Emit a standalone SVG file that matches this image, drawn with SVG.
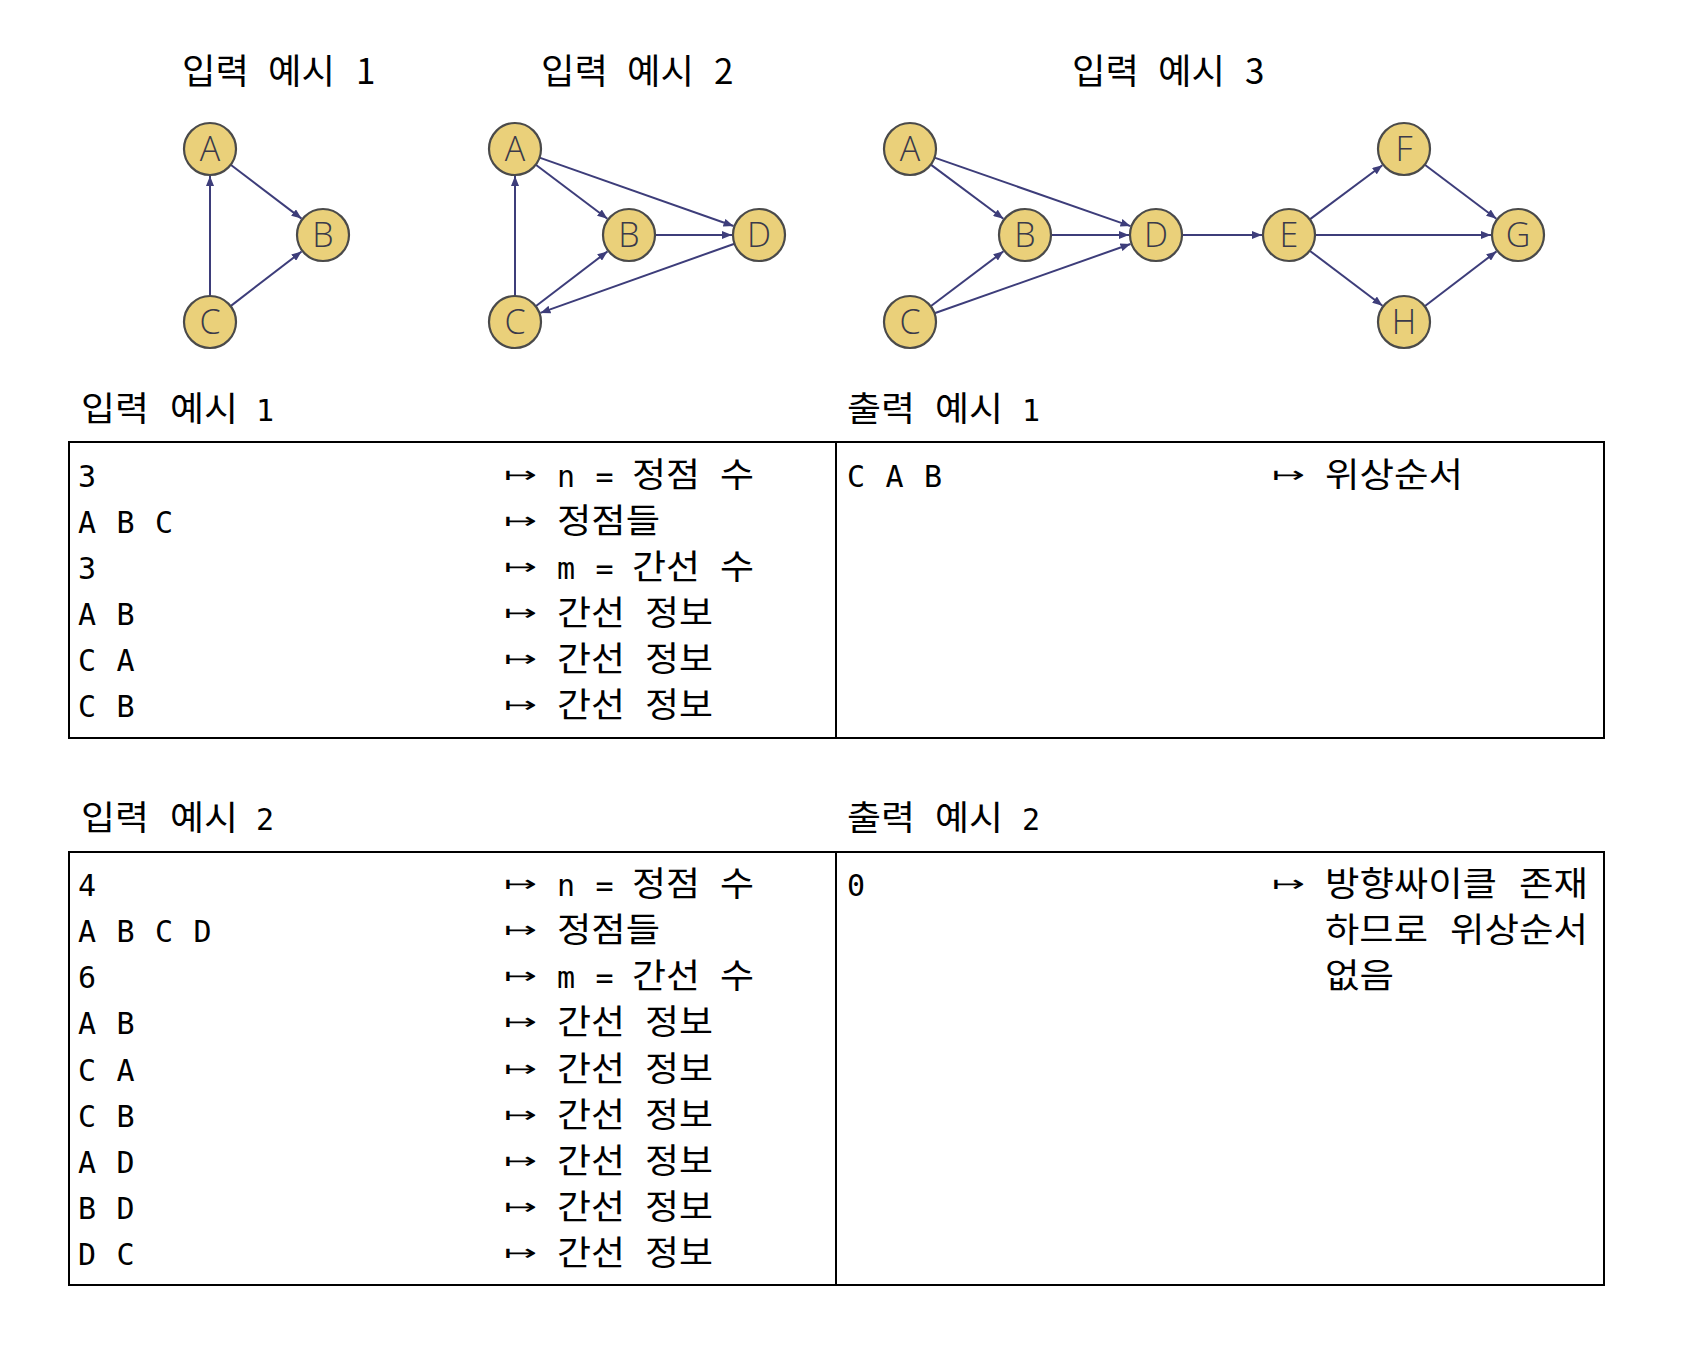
<svg xmlns="http://www.w3.org/2000/svg" width="1706" height="1356" viewBox="0 0 1706 1356">
<style>
.t{font-family:"Noto Sans CJK KR",sans-serif;font-size:35px;fill:#000}
.m{font-family:"DejaVu Sans Mono","Noto Sans CJK KR",monospace;font-size:30px;letter-spacing:1.2px;fill:#000}
.k{font-family:"Noto Sans CJK KR",sans-serif;font-size:34.5px;fill:#000}
.ar{font-family:"DejaVu Sans",sans-serif;font-size:22px;fill:#000}
.nd circle{fill:#EAD07A;stroke:#4a4a4a;stroke-width:2.2}
.nd text{font-family:"Open Sans","Noto Sans",sans-serif;font-size:34px;font-weight:300;fill:#3a3a4a;text-anchor:middle}
.e path{fill:none;stroke:#3d3d7a;stroke-width:2;marker-end:url(#ah)}
.tb{fill:none;stroke:#000;stroke-width:2}
</style>
<defs>
<marker id="ah" markerUnits="userSpaceOnUse" viewBox="0 0 10 8" markerWidth="10" markerHeight="8" refX="10" refY="4" orient="auto">
<path d="M0,0 L10,4 L0,8 z" fill="#3d3d7a"/>
</marker>
</defs>
<rect width="1706" height="1356" fill="#fff"/>

<text class="t" y="84"><tspan x="182" textLength="67" lengthAdjust="spacingAndGlyphs">입력</tspan><tspan x="268" textLength="67" lengthAdjust="spacingAndGlyphs">예시</tspan><tspan x="356">1</tspan></text>
<text class="t" y="84"><tspan x="541" textLength="67" lengthAdjust="spacingAndGlyphs">입력</tspan><tspan x="627" textLength="67" lengthAdjust="spacingAndGlyphs">예시</tspan><tspan x="714">2</tspan></text>
<text class="t" y="84"><tspan x="1072" textLength="67" lengthAdjust="spacingAndGlyphs">입력</tspan><tspan x="1158" textLength="67" lengthAdjust="spacingAndGlyphs">예시</tspan><tspan x="1245">3</tspan></text>

<g id="connectors" class="e">
<path d="M230.7,164.7 L301.5,218.6"/>
<path d="M210,296 L210,176"/>
<path d="M230.6,306.1 L301.6,251.5"/>

<path d="M535.8,164.7 L607.4,218.7"/>
<path d="M539.5,157.6 L733.5,226"/>
<path d="M655,235 L732,235"/>
<path d="M515,296 L515,176"/>
<path d="M535.7,306.2 L607.5,251.4"/>
<path d="M734.5,243.7 L540.4,312.9"/>

<path d="M930.8,164.6 L1003.4,218.8"/>
<path d="M934.5,157.6 L1130.5,226.1"/>
<path d="M1051,235 L1129,235"/>
<path d="M930.7,306.3 L1003.5,251.3"/>
<path d="M934.5,313.3 L1130.5,244"/>
<path d="M1182,235 L1262,235"/>
<path d="M1309.8,219.4 L1382.4,165.2"/>
<path d="M1315,235 L1491,235"/>
<path d="M1309.7,250.7 L1382.5,305.7"/>
<path d="M1424.8,164.7 L1496.4,218.7"/>
<path d="M1424.7,306.2 L1496.5,251.4"/>
</g>

<g id="g1A" class="nd"><circle cx="210" cy="149" r="26"/><text x="210" y="161">A</text></g>
<g id="g1B" class="nd"><circle cx="323" cy="235" r="26"/><text x="323" y="247">B</text></g>
<g id="g1C" class="nd"><circle cx="210" cy="322" r="26"/><text x="210" y="334">C</text></g>

<g id="g2A" class="nd"><circle cx="515" cy="149" r="26"/><text x="515" y="161">A</text></g>
<g id="g2B" class="nd"><circle cx="629" cy="235" r="26"/><text x="629" y="247">B</text></g>
<g id="g2D" class="nd"><circle cx="759" cy="235" r="26"/><text x="759" y="247">D</text></g>
<g id="g2C" class="nd"><circle cx="515" cy="322" r="26"/><text x="515" y="334">C</text></g>

<g id="g3A" class="nd"><circle cx="910" cy="149" r="26"/><text x="910" y="161">A</text></g>
<g id="g3B" class="nd"><circle cx="1025" cy="235" r="26"/><text x="1025" y="247">B</text></g>
<g id="g3D" class="nd"><circle cx="1156" cy="235" r="26"/><text x="1156" y="247">D</text></g>
<g id="g3C" class="nd"><circle cx="910" cy="322" r="26"/><text x="910" y="334">C</text></g>
<g id="g3E" class="nd"><circle cx="1289" cy="235" r="26"/><text x="1289" y="247">E</text></g>
<g id="g3F" class="nd"><circle cx="1404" cy="149" r="26"/><text x="1404" y="161">F</text></g>
<g id="g3G" class="nd"><circle cx="1518" cy="235" r="26"/><text x="1518" y="247">G</text></g>
<g id="g3H" class="nd"><circle cx="1404" cy="322" r="26"/><text x="1404" y="334">H</text></g>

<g id="table1">
<text class="k" y="421"><tspan x="81" textLength="68" lengthAdjust="spacingAndGlyphs">입력</tspan><tspan x="170" textLength="68" lengthAdjust="spacingAndGlyphs">예시</tspan></text><text class="m" x="256" y="421">1</text>
<text class="k" y="421"><tspan x="847" textLength="68" lengthAdjust="spacingAndGlyphs">출력</tspan><tspan x="935" textLength="68" lengthAdjust="spacingAndGlyphs">예시</tspan></text><text class="m" x="1022" y="421">1</text>
<rect class="tb" x="69" y="442" width="1535" height="296"/>
<line class="tb" x1="836" y1="442" x2="836" y2="738"/>
<text class="m" x="78" y="487">3</text>
<text class="m" x="78" y="533">A B C</text>
<text class="m" x="78" y="579">3</text>
<text class="m" x="78" y="625">A B</text>
<text class="m" x="78" y="671">C A</text>
<text class="m" x="78" y="717">C B</text>
<text class="ar" x="504" y="482" textLength="33" lengthAdjust="spacingAndGlyphs">↦</text>
<text class="ar" x="504" y="528" textLength="33" lengthAdjust="spacingAndGlyphs">↦</text>
<text class="ar" x="504" y="574" textLength="33" lengthAdjust="spacingAndGlyphs">↦</text>
<text class="ar" x="504" y="620" textLength="33" lengthAdjust="spacingAndGlyphs">↦</text>
<text class="ar" x="504" y="666" textLength="33" lengthAdjust="spacingAndGlyphs">↦</text>
<text class="ar" x="504" y="712" textLength="33" lengthAdjust="spacingAndGlyphs">↦</text>
<text class="m" x="557" y="487">n =</text><text class="k" y="487"><tspan x="632" textLength="68" lengthAdjust="spacingAndGlyphs">정점</tspan><tspan x="720" textLength="34" lengthAdjust="spacingAndGlyphs">수</tspan></text>
<text class="k" x="557" y="533" textLength="103" lengthAdjust="spacingAndGlyphs">정점들</text>
<text class="m" x="557" y="579">m =</text><text class="k" y="579"><tspan x="632" textLength="68" lengthAdjust="spacingAndGlyphs">간선</tspan><tspan x="720" textLength="34" lengthAdjust="spacingAndGlyphs">수</tspan></text>
<text class="k" y="625"><tspan x="557" textLength="68" lengthAdjust="spacingAndGlyphs">간선</tspan><tspan x="645" textLength="68" lengthAdjust="spacingAndGlyphs">정보</tspan></text>
<text class="k" y="671"><tspan x="557" textLength="68" lengthAdjust="spacingAndGlyphs">간선</tspan><tspan x="645" textLength="68" lengthAdjust="spacingAndGlyphs">정보</tspan></text>
<text class="k" y="717"><tspan x="557" textLength="68" lengthAdjust="spacingAndGlyphs">간선</tspan><tspan x="645" textLength="68" lengthAdjust="spacingAndGlyphs">정보</tspan></text>
<text class="m" x="847" y="487">C A B</text>
<text class="ar" x="1272" y="482" textLength="33" lengthAdjust="spacingAndGlyphs">↦</text>
<text class="k" x="1325" y="487" textLength="138" lengthAdjust="spacingAndGlyphs">위상순서</text>
</g>

<g id="table2">
<text class="k" y="830"><tspan x="81" textLength="68" lengthAdjust="spacingAndGlyphs">입력</tspan><tspan x="170" textLength="68" lengthAdjust="spacingAndGlyphs">예시</tspan></text><text class="m" x="256" y="830">2</text>
<text class="k" y="830"><tspan x="847" textLength="68" lengthAdjust="spacingAndGlyphs">출력</tspan><tspan x="935" textLength="68" lengthAdjust="spacingAndGlyphs">예시</tspan></text><text class="m" x="1022" y="830">2</text>
<rect class="tb" x="69" y="852" width="1535" height="433"/>
<line class="tb" x1="836" y1="852" x2="836" y2="1285"/>
<text class="m" x="78" y="896">4</text>
<text class="m" x="78" y="942">A B C D</text>
<text class="m" x="78" y="988">6</text>
<text class="m" x="78" y="1034">A B</text>
<text class="m" x="78" y="1081">C A</text>
<text class="m" x="78" y="1127">C B</text>
<text class="m" x="78" y="1173">A D</text>
<text class="m" x="78" y="1219">B D</text>
<text class="m" x="78" y="1265">D C</text>
<text class="ar" x="504" y="891" textLength="33" lengthAdjust="spacingAndGlyphs">↦</text>
<text class="ar" x="504" y="937" textLength="33" lengthAdjust="spacingAndGlyphs">↦</text>
<text class="ar" x="504" y="983" textLength="33" lengthAdjust="spacingAndGlyphs">↦</text>
<text class="ar" x="504" y="1029" textLength="33" lengthAdjust="spacingAndGlyphs">↦</text>
<text class="ar" x="504" y="1076" textLength="33" lengthAdjust="spacingAndGlyphs">↦</text>
<text class="ar" x="504" y="1122" textLength="33" lengthAdjust="spacingAndGlyphs">↦</text>
<text class="ar" x="504" y="1168" textLength="33" lengthAdjust="spacingAndGlyphs">↦</text>
<text class="ar" x="504" y="1214" textLength="33" lengthAdjust="spacingAndGlyphs">↦</text>
<text class="ar" x="504" y="1260" textLength="33" lengthAdjust="spacingAndGlyphs">↦</text>
<text class="m" x="557" y="896">n =</text><text class="k" y="896"><tspan x="632" textLength="68" lengthAdjust="spacingAndGlyphs">정점</tspan><tspan x="720" textLength="34" lengthAdjust="spacingAndGlyphs">수</tspan></text>
<text class="k" x="557" y="942" textLength="103" lengthAdjust="spacingAndGlyphs">정점들</text>
<text class="m" x="557" y="988">m =</text><text class="k" y="988"><tspan x="632" textLength="68" lengthAdjust="spacingAndGlyphs">간선</tspan><tspan x="720" textLength="34" lengthAdjust="spacingAndGlyphs">수</tspan></text>
<text class="k" y="1034"><tspan x="557" textLength="68" lengthAdjust="spacingAndGlyphs">간선</tspan><tspan x="645" textLength="68" lengthAdjust="spacingAndGlyphs">정보</tspan></text>
<text class="k" y="1081"><tspan x="557" textLength="68" lengthAdjust="spacingAndGlyphs">간선</tspan><tspan x="645" textLength="68" lengthAdjust="spacingAndGlyphs">정보</tspan></text>
<text class="k" y="1127"><tspan x="557" textLength="68" lengthAdjust="spacingAndGlyphs">간선</tspan><tspan x="645" textLength="68" lengthAdjust="spacingAndGlyphs">정보</tspan></text>
<text class="k" y="1173"><tspan x="557" textLength="68" lengthAdjust="spacingAndGlyphs">간선</tspan><tspan x="645" textLength="68" lengthAdjust="spacingAndGlyphs">정보</tspan></text>
<text class="k" y="1219"><tspan x="557" textLength="68" lengthAdjust="spacingAndGlyphs">간선</tspan><tspan x="645" textLength="68" lengthAdjust="spacingAndGlyphs">정보</tspan></text>
<text class="k" y="1265"><tspan x="557" textLength="68" lengthAdjust="spacingAndGlyphs">간선</tspan><tspan x="645" textLength="68" lengthAdjust="spacingAndGlyphs">정보</tspan></text>
<text class="m" x="847" y="896">0</text>
<text class="ar" x="1272" y="891" textLength="33" lengthAdjust="spacingAndGlyphs">↦</text>
<text class="k" y="896"><tspan x="1325" textLength="172" lengthAdjust="spacingAndGlyphs">방향싸이클</tspan><tspan x="1519" textLength="69" lengthAdjust="spacingAndGlyphs">존재</tspan></text>
<text class="k" y="942"><tspan x="1325" textLength="103" lengthAdjust="spacingAndGlyphs">하므로</tspan><tspan x="1450" textLength="138" lengthAdjust="spacingAndGlyphs">위상순서</tspan></text>
<text class="k" x="1325" y="988" textLength="69" lengthAdjust="spacingAndGlyphs">없음</text>
</g>
</svg>
